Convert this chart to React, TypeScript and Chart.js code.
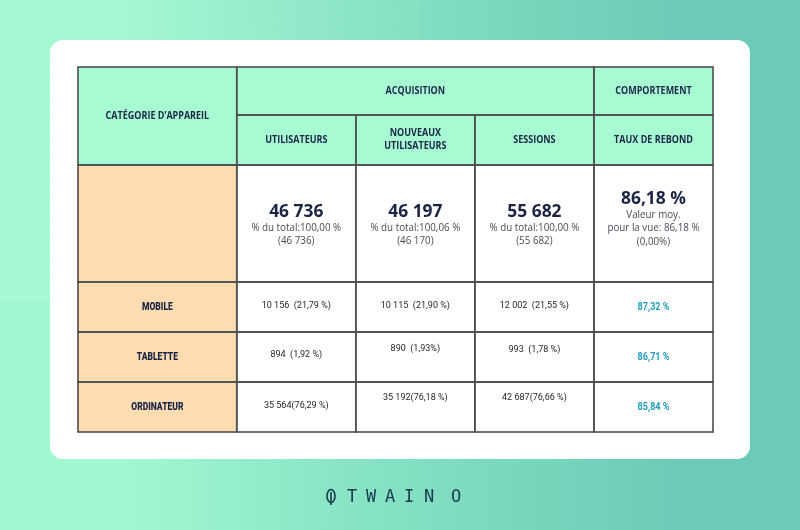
import React, { useEffect, useRef } from "react";
import { Chart, registerables } from "chart.js";

Chart.register(...registerables);

// ---- data ----
const categoryHeader = "CATÉGORIE D’APPAREIL";
const groupHeaders = ["ACQUISITION", "COMPORTEMENT"];
const metricHeaders = ["UTILISATEURS", "NOUVEAUX\nUTILISATEURS", "SESSIONS", "TAUX DE REBOND"];
const totals = ["46 736", "46 197", "55 682", "86,18 %"];
const totalNotes = [
  ["% du total:100,00 %", "(46 736)"],
  ["% du total:100,06 %", "(46 170)"],
  ["% du total:100,00 %", "(55 682)"],
  ["Valeur moy.", "pour la vue: 86,18 %", "(0,00%)"],
];
const devices = ["MOBILE", "TABLETTE", "ORDINATEUR"];
const usersValues = ["10 156  (21,79 %)", "894  (1,92 %)", "35 564(76,29 %)"];
const newUsersValues = ["10 115  (21,90 %)", "890  (1,93%)", "35 192(76,18 %)"];
const sessionsValues = ["12 002  (21,55 %)", "993  (1,78 %)", "42 687(76,66 %)"];
const bounceValues = ["87,32 %", "86,71 %", "85,84 %"];
const brand = ["T", "W", "A", "I", "N", "O"];

// ---- layout (not data) ----
const colWeights = [4, 3, 3, 3, 3];
const rowHeights = [48, 50, 117, 50, 50, 50];
const colEdges = colWeights.reduce((a, w) => [...a, a[a.length - 1] + w], [0]);
const rowEdges = rowHeights.reduce((a, h) => [...a, a[a.length - 1] + h], [0]);
const valueNudge = [
  [-1, -1, -1],
  [-2, -8, -7],
  [-1, -9, -9],
];

const MINT = "#a6fbd3";
const PEACH = "#fedcb1";
const NAVY = "#1c2446";
const LINE = "#4b4f4f";
const TEAL = "#1f9dbd";

const tablePlugin = {
  id: "tablePlugin",
  beforeDraw(chart: any) {
    const ctx = chart.ctx as CanvasRenderingContext2D;
    const W = chart.width, H = chart.height;
    ctx.save();
    const g = ctx.createLinearGradient(120, 0, 680, 0);
    g.addColorStop(0, "#a2f9d1");
    g.addColorStop(0.45, "#86e2c4");
    g.addColorStop(1, "#6ccbb6");
    ctx.fillStyle = g;
    ctx.fillRect(0, 0, W, H);
    ctx.save();
    ctx.beginPath();
    ctx.rect(0, 0, 420, 40);
    ctx.rect(0, 40, 50, 260);
    ctx.clip();
    ctx.strokeStyle = "rgba(255,255,255,0.09)";
    ctx.lineWidth = 1.5;
    for (let s = -400; s < 500; s += 5) {
      ctx.beginPath();
      ctx.moveTo(s, 0);
      ctx.lineTo(s + 300, 300);
      ctx.stroke();
    }
    ctx.restore();
    ctx.fillStyle = "#ffffff";
    ctx.beginPath();
    (ctx as any).roundRect(50, 40, 700, 419, 13);
    ctx.fill();
    ctx.restore();
  },
  afterDraw(chart: any) {
    const ctx = chart.ctx as CanvasRenderingContext2D;
    const xs = chart.scales.x, ys = chart.scales.y;
    const X = (c: number) => xs.getPixelForValue(colEdges[c]);
    const Y = (r: number) => ys.getPixelForValue(rowEdges[r]);
    const cx = (c0: number, c1: number) => (X(c0) + X(c1)) / 2;
    const cy = (r0: number, r1: number) => (Y(r0) + Y(r1)) / 2;

    const cells: [number, number, number, number, string][] = [
      [0, 1, 0, 2, MINT],
      [1, 4, 0, 1, MINT],
      [4, 5, 0, 1, MINT],
      [1, 2, 1, 2, MINT],
      [2, 3, 1, 2, MINT],
      [3, 4, 1, 2, MINT],
      [4, 5, 1, 2, MINT],
    ];
    for (let r = 2; r < rowHeights.length; r++) {
      cells.push([0, 1, r, r + 1, PEACH]);
      for (let c = 1; c < colWeights.length; c++) cells.push([c, c + 1, r, r + 1, "#ffffff"]);
    }
    ctx.save();
    for (const [c0, c1, r0, r1, fill] of cells) {
      ctx.fillStyle = fill;
      ctx.fillRect(X(c0), Y(r0), X(c1) - X(c0), Y(r1) - Y(r0));
    }
    ctx.strokeStyle = LINE;
    ctx.lineWidth = 1.6;
    for (const [c0, c1, r0, r1] of cells) {
      ctx.strokeRect(X(c0), Y(r0), X(c1) - X(c0), Y(r1) - Y(r0));
    }

    const txt = (s: string, x: number, y: number, font: string, color: string, sx = 1) => {
      ctx.save();
      ctx.translate(x, y);
      ctx.scale(sx, 1);
      ctx.font = font;
      ctx.fillStyle = color;
      ctx.textAlign = "center";
      ctx.textBaseline = "middle";
      ctx.fillText(s, 0, 0);
      ctx.restore();
    };
    const HF = "bold 10px 'Open Sans'";
    const HS = 0.9;
    txt(categoryHeader, cx(0, 1), cy(0, 2), HF, NAVY, HS);
    txt(groupHeaders[0], cx(1, 4), cy(0, 1), HF, NAVY, HS);
    txt(groupHeaders[1], cx(4, 5), cy(0, 1), HF, NAVY, HS);
    metricHeaders.forEach((h, i) => {
      const lines = h.split("\n");
      lines.forEach((ln, j) => {
        const y = cy(1, 2) + (j - (lines.length - 1) / 2) * 13;
        txt(ln, cx(i + 1, i + 2), y, HF, NAVY, HS);
      });
    });

    totals.forEach((t, i) => {
      const notes = totalNotes[i];
      const c = cx(i + 1, i + 2);
      const base = cy(2, 3) - (notes.length === 3 ? 24.5 : 11.5);
      txt(t, c, base, "bold 18.5px 'Open Sans'", NAVY, 0.94);
      notes.forEach((n, j) => {
        txt(n, c, base + 16 + j * 13.5, "10px 'Open Sans'", "#4a4a55", 0.98);
      });
    });

    const cols = [usersValues, newUsersValues, sessionsValues];
    devices.forEach((d, r) => {
      const y = cy(r + 3, r + 4);
      txt(d, cx(0, 1), y, "900 10px Roboto", NAVY, 0.85);
      cols.forEach((vals, k) => {
        txt(vals[r], cx(k + 1, k + 2), y + valueNudge[r][k], "9.5px Roboto", "#1f1f1f", 0.95);
      });
      txt(bounceValues[r], cx(4, 5), y, "bold 10px Roboto", TEAL, 0.9);
    });

    const ly = 497;
    ctx.strokeStyle = "#173a4f";
    ctx.lineWidth = 1.6;
    ctx.beginPath();
    ctx.ellipse(331, ly - 1, 4, 6.5, 0, 0, Math.PI * 2);
    ctx.stroke();
    ctx.beginPath();
    ctx.moveTo(331, ly - 5);
    ctx.lineTo(331, ly + 8);
    ctx.stroke();
    const bx = [352, 371, 390, 409, 429, 456];
    brand.forEach((b, i) => txt(b, bx[i], ly + 1, "17px 'DejaVu Sans Mono'", "#173a4f"));
    ctx.restore();
  },
};

export default function App() {
  const ref = useRef<HTMLCanvasElement | null>(null);
  useEffect(() => {
    if (!ref.current) return;
    const chart = new Chart(ref.current, {
      type: "scatter",
      data: { datasets: [{ data: [] }] },
      options: {
        responsive: false,
        animation: false,
        devicePixelRatio: 1,
        layout: { padding: { left: 78, right: 87, top: 67, bottom: 98 } },
        scales: {
          x: { type: "linear", display: false, min: 0, max: colEdges[colEdges.length - 1] },
          y: { type: "linear", display: false, min: 0, max: rowEdges[rowEdges.length - 1], reverse: true },
        },
        plugins: { legend: { display: false }, tooltip: { enabled: false } },
      },
      plugins: [tablePlugin],
    } as any);
    return () => chart.destroy();
  }, []);
  return (
    <div style={{ position: "fixed", left: 0, top: 0, width: 800, height: 530 }}>
      <canvas ref={ref} width={800} height={530} style={{ width: 800, height: 530, display: "block" }} />
    </div>
  );
}
